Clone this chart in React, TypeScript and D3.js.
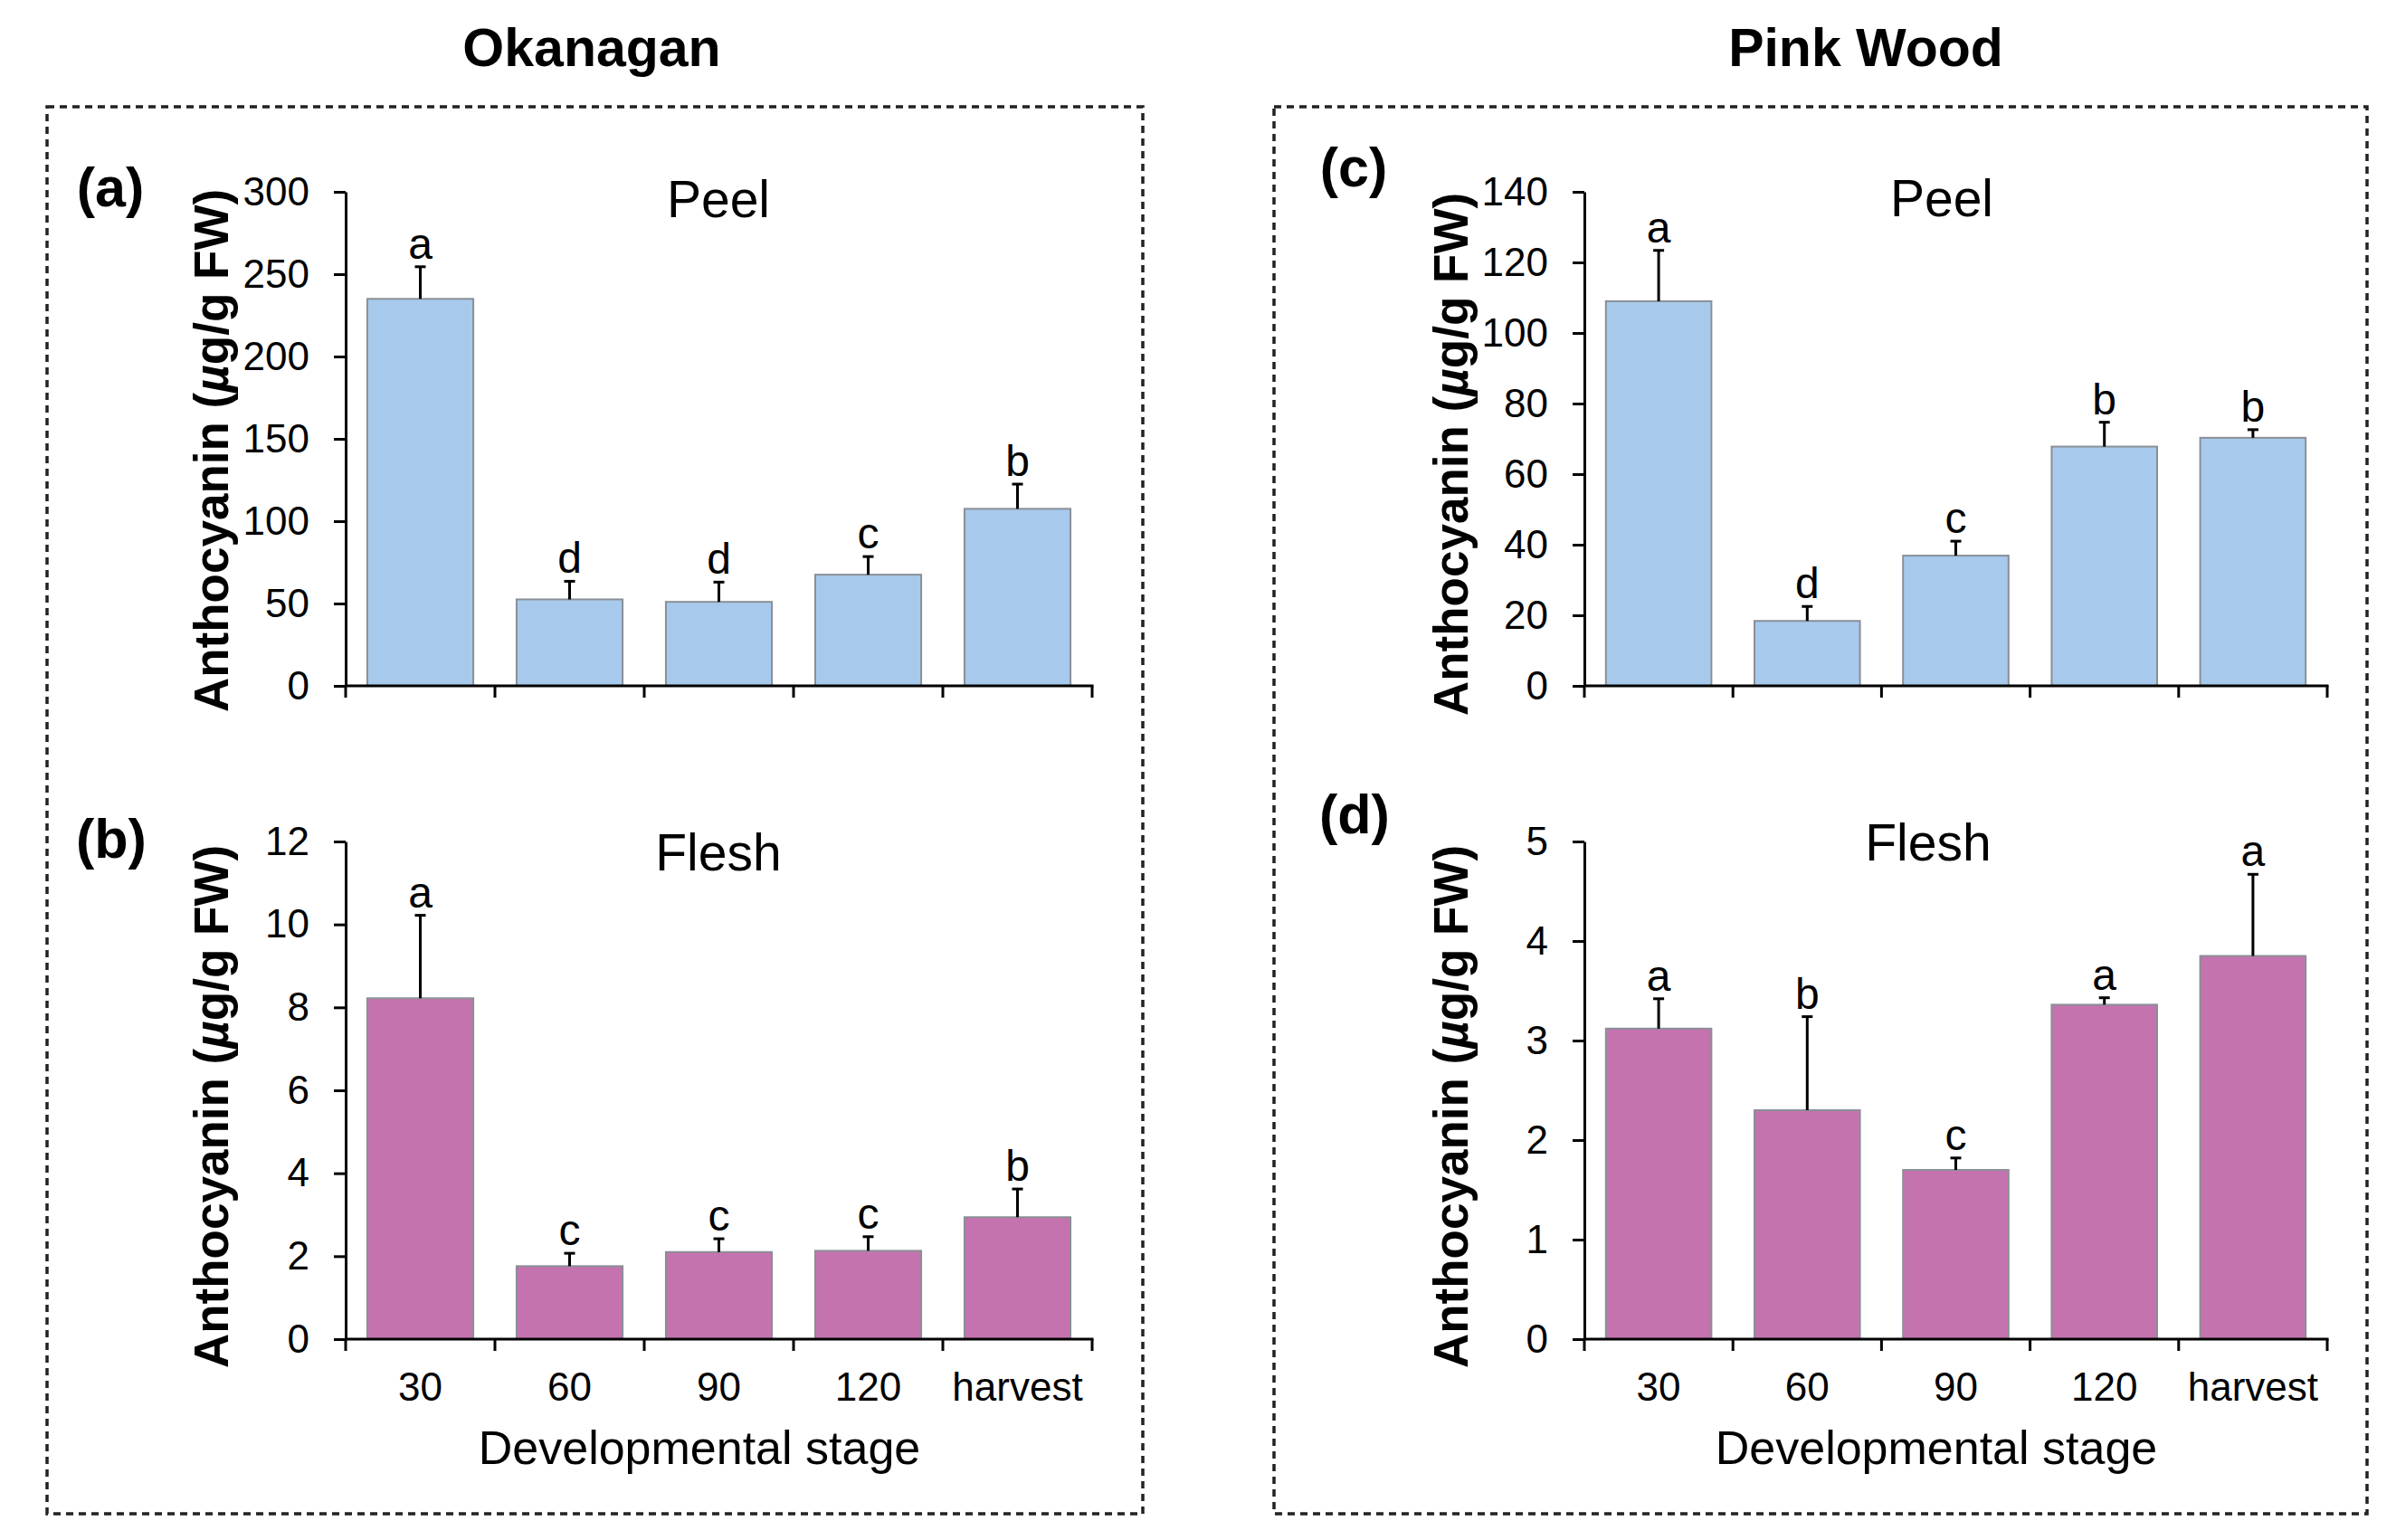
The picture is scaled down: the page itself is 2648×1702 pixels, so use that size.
import * as d3 from 'd3';
import { useEffect, useRef } from 'react';

const stages = ['30', '60', '90', '120', 'harvest'];

// Okanagan
const okPeel = [235, 52.5, 51, 67.5, 107.5];
const okPeelErr = [19.5, 11, 12, 11, 15];
const okPeelSig = ['a', 'd', 'd', 'c', 'b'];
const okFlesh = [8.22, 1.76, 2.1, 2.13, 2.94];
const okFleshErr = [2.0, 0.31, 0.32, 0.34, 0.68];
const okFleshSig = ['a', 'c', 'c', 'c', 'b'];

// Pink Wood
const pwPeel = [109, 18.4, 36.9, 67.8, 70.3];
const pwPeelErr = [14.4, 4.1, 4.1, 6.9, 2.3];
const pwPeelSig = ['a', 'd', 'c', 'b', 'b'];
const pwFlesh = [3.12, 2.3, 1.7, 3.36, 3.85];
const pwFleshErr = [0.3, 0.94, 0.12, 0.07, 0.82];
const pwFleshSig = ['a', 'b', 'c', 'a', 'a'];

const FONT = "'Liberation Sans', Arial, Helvetica, sans-serif";
const BLUE = '#a7caec';
const PINK = '#c473ae';

const W = 2648;
const H = 1702;

const panels = [
  {
    tag: '(a)', title: 'Peel', values: okPeel, err: okPeelErr, sig: okPeelSig,
    max: 300, step: 50, fill: BLUE, x0: 382, x1: 1207, top: 212, bottom: 758,
    tagPos: [122, 228], titlePos: [794, 240], yLabel: [252, 498], xLabels: false,
  },
  {
    tag: '(b)', title: 'Flesh', values: okFlesh, err: okFleshErr, sig: okFleshSig,
    max: 12, step: 2, fill: PINK, x0: 382, x1: 1207, top: 930, bottom: 1480,
    tagPos: [123, 948], titlePos: [794, 962], yLabel: [252, 1223], xLabels: true,
  },
  {
    tag: '(c)', title: 'Peel', values: pwPeel, err: pwPeelErr, sig: pwPeelSig,
    max: 140, step: 20, fill: BLUE, x0: 1751, x1: 2572, top: 212, bottom: 758,
    tagPos: [1496, 206], titlePos: [2146, 239], yLabel: [1622, 502], xLabels: false,
  },
  {
    tag: '(d)', title: 'Flesh', values: pwFlesh, err: pwFleshErr, sig: pwFleshSig,
    max: 5, step: 1, fill: PINK, x0: 1751, x1: 2572, top: 930, bottom: 1480,
    tagPos: [1497, 921], titlePos: [2131, 951], yLabel: [1622, 1223], xLabels: true,
  },
];

const boxes = [
  { x: 52, y: 118, w: 1211, h: 1555, title: 'Okanagan', tx: 654, xTitle: 773 },
  { x: 1408, y: 118, w: 1208, h: 1555, title: 'Pink Wood', tx: 2062, xTitle: 2140 },
];

const App = () => {
  const ref = useRef(null);

  useEffect(() => {
    const svg = d3.select(ref.current);
    svg.selectAll('*').remove();

    svg.append('rect').attr('width', W).attr('height', H).style('fill', '#fff');

    boxes.forEach((b) => {
      svg
        .append('rect')
        .attr('x', b.x)
        .attr('y', b.y)
        .attr('width', b.w)
        .attr('height', b.h)
        .style('fill', 'none')
        .style('stroke', '#222')
        .style('stroke-width', 3.5)
        .style('stroke-dasharray', '8 6');

      svg
        .append('text')
        .attr('x', b.tx)
        .attr('y', 73)
        .attr('text-anchor', 'middle')
        .style('font-family', FONT)
        .style('font-weight', 'bold')
        .style('font-size', '59px')
        .text(b.title);

      svg
        .append('text')
        .attr('x', b.xTitle)
        .attr('y', 1618)
        .attr('text-anchor', 'middle')
        .style('font-family', FONT)
        .style('font-size', '52px')
        .text('Developmental stage');
    });

    panels.forEach((p) => {
      const x = d3.scaleBand().domain(stages).range([p.x0, p.x1]).padding(0);
      const y = d3.scaleLinear().domain([0, p.max]).range([p.bottom, p.top]);
      const bw = x.bandwidth() * 0.71;
      const g = svg.append('g');

      // bars
      g.selectAll('.bar')
        .data(p.values)
        .enter()
        .append('rect')
        .attr('x', (d, i) => x(stages[i]) + (x.bandwidth() - bw) / 2)
        .attr('y', (d) => y(d))
        .attr('width', bw)
        .attr('height', (d) => p.bottom - y(d))
        .style('fill', p.fill)
        .style('stroke', '#8a8f96')
        .style('stroke-width', 2);

      // upper error bars with significance letters
      p.values.forEach((v, i) => {
        const cx = x(stages[i]) + x.bandwidth() / 2;
        const yTop = y(v + p.err[i]);
        g.append('line')
          .attr('x1', cx).attr('x2', cx)
          .attr('y1', y(v)).attr('y2', yTop)
          .style('stroke', '#000').style('stroke-width', 3);
        g.append('line')
          .attr('x1', cx - 6).attr('x2', cx + 6)
          .attr('y1', yTop).attr('y2', yTop)
          .style('stroke', '#000').style('stroke-width', 3);
        g.append('text')
          .attr('x', cx)
          .attr('y', yTop - 9)
          .attr('text-anchor', 'middle')
          .style('font-family', FONT)
          .style('font-size', '48px')
          .text(p.sig[i]);
      });

      // y axis
      const yAxis = d3
        .axisLeft(y)
        .tickValues(d3.range(0, p.max + p.step / 2, p.step))
        .tickSize(13)
        .tickSizeOuter(0)
        .tickPadding(27)
        .tickFormat(d3.format('d'));
      const ya = g.append('g').attr('transform', `translate(${p.x0},0)`).call(yAxis);
      ya.select('.domain').style('stroke', '#000').style('stroke-width', 3);
      ya.selectAll('.tick line').style('stroke', '#000').style('stroke-width', 3);
      ya.selectAll('.tick text')
        .style('font-family', FONT)
        .style('font-size', '44px')
        .style('fill', '#000');

      // x axis with ticks at category boundaries
      g.append('line')
        .attr('x1', p.x0 - 1).attr('x2', p.x1 + 1.5)
        .attr('y1', p.bottom).attr('y2', p.bottom)
        .style('stroke', '#000').style('stroke-width', 3);
      const bounds = stages.map((s) => x(s)).concat([p.x1]);
      g.selectAll('.xtick')
        .data(bounds)
        .enter()
        .append('line')
        .attr('x1', (d) => d).attr('x2', (d) => d)
        .attr('y1', p.bottom).attr('y2', p.bottom + 13)
        .style('stroke', '#000').style('stroke-width', 3);

      if (p.xLabels) {
        g.selectAll('.xlabel')
          .data(stages)
          .enter()
          .append('text')
          .attr('x', (d) => x(d) + x.bandwidth() / 2)
          .attr('y', p.bottom + 68)
          .attr('text-anchor', 'middle')
          .style('font-family', FONT)
          .style('font-size', '44px')
          .text((d) => d);
      }

      // panel tag and title
      g.append('text')
        .attr('x', p.tagPos[0]).attr('y', p.tagPos[1])
        .attr('text-anchor', 'middle')
        .style('font-family', FONT)
        .style('font-weight', 'bold')
        .style('font-size', '61px')
        .text(p.tag);
      g.append('text')
        .attr('x', p.titlePos[0]).attr('y', p.titlePos[1])
        .attr('text-anchor', 'middle')
        .style('font-family', FONT)
        .style('font-size', '57px')
        .text(p.title);

      // y axis title
      const yl = g.append('text')
        .attr('transform', `translate(${p.yLabel[0]},${p.yLabel[1]}) rotate(-90)`)
        .attr('text-anchor', 'middle')
        .style('font-family', FONT)
        .style('font-weight', 'bold')
        .style('font-size', '53px');
      yl.append('tspan').text('Anthocyanin (');
      yl.append('tspan').style('font-style', 'italic').text('\u00b5');
      yl.append('tspan').text('g/g FW)');
    });
  }, []);

  return (
    <svg
      ref={ref}
      width={W}
      height={H}
      style={{ position: 'absolute', left: 0, top: 0, display: 'block' }}
    ></svg>
  );
};

export default App;
